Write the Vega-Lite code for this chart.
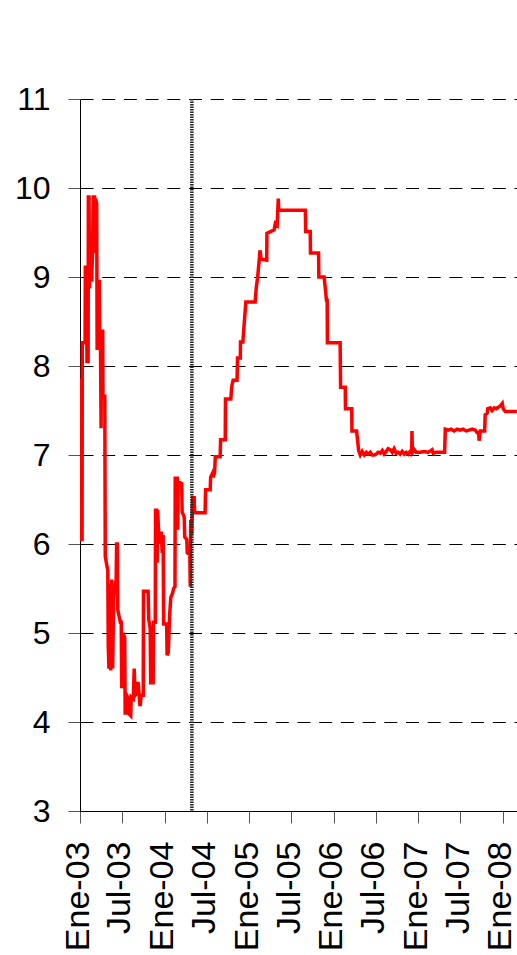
{
  "$schema": "https://vega.github.io/schema/vega-lite/v6.json",
  "width": 437,
  "height": 712,
  "autosize": {"type": "none"},
  "padding": {"left": 80, "top": 99, "right": 0, "bottom": 144},
  "background": "white",
  "config": {
    "view": {"stroke": null},
    "font": "Liberation Sans",
    "axis": {"labelFont": "Liberation Sans", "labelColor": "#000", "domainColor": "#000", "tickColor": "#000", "title": null}
  },
  "datasets": {
    "serie": [
      {"fecha": "2003-01-01", "tasa": 7.70},
      {"fecha": "2003-01-03", "tasa": 7.84},
      {"fecha": "2003-01-07", "tasa": 7.84},
      {"fecha": "2003-01-08", "tasa": 6.05},
      {"fecha": "2003-01-10", "tasa": 6.05},
      {"fecha": "2003-01-11", "tasa": 8.26},
      {"fecha": "2003-01-23", "tasa": 8.26},
      {"fecha": "2003-01-24", "tasa": 9.11},
      {"fecha": "2003-01-30", "tasa": 9.11},
      {"fecha": "2003-01-31", "tasa": 8.05},
      {"fecha": "2003-02-05", "tasa": 8.05},
      {"fecha": "2003-02-06", "tasa": 9.90},
      {"fecha": "2003-02-09", "tasa": 9.90},
      {"fecha": "2003-02-11", "tasa": 8.87},
      {"fecha": "2003-02-12", "tasa": 9.43},
      {"fecha": "2003-02-18", "tasa": 9.43},
      {"fecha": "2003-02-20", "tasa": 8.95},
      {"fecha": "2003-02-24", "tasa": 9.25},
      {"fecha": "2003-02-27", "tasa": 9.90},
      {"fecha": "2003-03-05", "tasa": 9.90},
      {"fecha": "2003-03-07", "tasa": 9.27},
      {"fecha": "2003-03-09", "tasa": 9.88},
      {"fecha": "2003-03-14", "tasa": 9.83},
      {"fecha": "2003-03-16", "tasa": 8.18},
      {"fecha": "2003-03-18", "tasa": 8.95},
      {"fecha": "2003-03-25", "tasa": 8.95},
      {"fecha": "2003-03-27", "tasa": 8.32},
      {"fecha": "2003-03-30", "tasa": 8.39},
      {"fecha": "2003-04-02", "tasa": 7.30},
      {"fecha": "2003-04-04", "tasa": 8.39},
      {"fecha": "2003-04-09", "tasa": 8.39},
      {"fecha": "2003-04-10", "tasa": 7.66},
      {"fecha": "2003-04-18", "tasa": 7.66},
      {"fecha": "2003-04-20", "tasa": 5.86},
      {"fecha": "2003-04-24", "tasa": 5.80},
      {"fecha": "2003-05-01", "tasa": 5.70},
      {"fecha": "2003-05-03", "tasa": 4.85},
      {"fecha": "2003-05-06", "tasa": 4.60},
      {"fecha": "2003-05-09", "tasa": 5.55},
      {"fecha": "2003-05-14", "tasa": 4.58},
      {"fecha": "2003-05-18", "tasa": 5.60},
      {"fecha": "2003-05-22", "tasa": 4.60},
      {"fecha": "2003-05-26", "tasa": 5.40},
      {"fecha": "2003-05-31", "tasa": 5.50},
      {"fecha": "2003-06-06", "tasa": 5.60},
      {"fecha": "2003-06-08", "tasa": 6.00},
      {"fecha": "2003-06-11", "tasa": 6.00},
      {"fecha": "2003-06-13", "tasa": 5.26},
      {"fecha": "2003-06-24", "tasa": 5.12},
      {"fecha": "2003-06-28", "tasa": 5.12},
      {"fecha": "2003-06-30", "tasa": 4.40},
      {"fecha": "2003-07-04", "tasa": 4.40},
      {"fecha": "2003-07-06", "tasa": 5.00},
      {"fecha": "2003-07-13", "tasa": 4.95},
      {"fecha": "2003-07-15", "tasa": 4.10},
      {"fecha": "2003-07-19", "tasa": 4.10},
      {"fecha": "2003-07-22", "tasa": 4.30},
      {"fecha": "2003-07-26", "tasa": 4.28},
      {"fecha": "2003-07-28", "tasa": 4.10},
      {"fecha": "2003-08-08", "tasa": 4.07},
      {"fecha": "2003-08-10", "tasa": 4.28},
      {"fecha": "2003-08-19", "tasa": 4.26},
      {"fecha": "2003-08-23", "tasa": 4.60},
      {"fecha": "2003-08-27", "tasa": 4.30},
      {"fecha": "2003-09-05", "tasa": 4.33},
      {"fecha": "2003-09-09", "tasa": 4.45},
      {"fecha": "2003-09-16", "tasa": 4.20},
      {"fecha": "2003-09-18", "tasa": 4.18},
      {"fecha": "2003-09-22", "tasa": 4.30},
      {"fecha": "2003-10-01", "tasa": 4.30},
      {"fecha": "2003-10-02", "tasa": 5.47},
      {"fecha": "2003-10-22", "tasa": 5.47},
      {"fecha": "2003-10-25", "tasa": 5.15},
      {"fecha": "2003-10-31", "tasa": 5.05},
      {"fecha": "2003-11-02", "tasa": 4.44},
      {"fecha": "2003-11-13", "tasa": 4.44},
      {"fecha": "2003-11-14", "tasa": 5.12},
      {"fecha": "2003-11-22", "tasa": 5.12},
      {"fecha": "2003-11-23", "tasa": 6.38},
      {"fecha": "2003-11-28", "tasa": 6.38},
      {"fecha": "2003-11-30", "tasa": 5.79},
      {"fecha": "2003-12-02", "tasa": 6.38},
      {"fecha": "2003-12-09", "tasa": 6.00},
      {"fecha": "2003-12-11", "tasa": 6.12},
      {"fecha": "2003-12-18", "tasa": 6.12},
      {"fecha": "2003-12-22", "tasa": 5.90},
      {"fecha": "2003-12-26", "tasa": 6.10},
      {"fecha": "2003-12-28", "tasa": 5.10},
      {"fecha": "2004-01-10", "tasa": 5.10},
      {"fecha": "2004-01-12", "tasa": 4.75},
      {"fecha": "2004-01-17", "tasa": 4.78},
      {"fecha": "2004-01-23", "tasa": 5.20},
      {"fecha": "2004-01-28", "tasa": 5.40},
      {"fecha": "2004-02-05", "tasa": 5.45},
      {"fecha": "2004-02-09", "tasa": 5.50},
      {"fecha": "2004-02-15", "tasa": 5.52},
      {"fecha": "2004-02-16", "tasa": 6.74},
      {"fecha": "2004-02-25", "tasa": 6.74},
      {"fecha": "2004-02-27", "tasa": 6.16},
      {"fecha": "2004-02-29", "tasa": 6.70},
      {"fecha": "2004-03-15", "tasa": 6.68},
      {"fecha": "2004-03-17", "tasa": 6.36},
      {"fecha": "2004-03-26", "tasa": 6.30},
      {"fecha": "2004-03-28", "tasa": 6.08},
      {"fecha": "2004-04-06", "tasa": 6.05},
      {"fecha": "2004-04-08", "tasa": 5.90},
      {"fecha": "2004-04-19", "tasa": 5.88},
      {"fecha": "2004-04-21", "tasa": 5.52},
      {"fecha": "2004-04-23", "tasa": 6.27},
      {"fecha": "2004-04-27", "tasa": 6.10},
      {"fecha": "2004-05-01", "tasa": 6.52},
      {"fecha": "2004-05-08", "tasa": 6.52},
      {"fecha": "2004-05-10", "tasa": 6.35},
      {"fecha": "2004-06-24", "tasa": 6.35},
      {"fecha": "2004-06-26", "tasa": 6.61},
      {"fecha": "2004-07-16", "tasa": 6.61},
      {"fecha": "2004-07-18", "tasa": 6.75},
      {"fecha": "2004-07-27", "tasa": 6.80},
      {"fecha": "2004-07-29", "tasa": 6.75},
      {"fecha": "2004-08-04", "tasa": 6.80},
      {"fecha": "2004-08-07", "tasa": 6.98},
      {"fecha": "2004-08-28", "tasa": 6.98},
      {"fecha": "2004-08-30", "tasa": 7.17},
      {"fecha": "2004-09-19", "tasa": 7.17},
      {"fecha": "2004-09-20", "tasa": 7.63},
      {"fecha": "2004-10-13", "tasa": 7.63},
      {"fecha": "2004-10-17", "tasa": 7.77},
      {"fecha": "2004-10-23", "tasa": 7.84},
      {"fecha": "2004-11-09", "tasa": 7.84},
      {"fecha": "2004-11-11", "tasa": 8.09},
      {"fecha": "2004-11-23", "tasa": 8.09},
      {"fecha": "2004-11-24", "tasa": 8.27},
      {"fecha": "2004-12-04", "tasa": 8.27},
      {"fecha": "2004-12-12", "tasa": 8.55},
      {"fecha": "2004-12-17", "tasa": 8.72},
      {"fecha": "2005-01-26", "tasa": 8.72},
      {"fecha": "2005-01-31", "tasa": 8.88},
      {"fecha": "2005-02-06", "tasa": 9.00},
      {"fecha": "2005-02-13", "tasa": 9.20},
      {"fecha": "2005-02-16", "tasa": 9.30},
      {"fecha": "2005-02-21", "tasa": 9.20},
      {"fecha": "2005-03-17", "tasa": 9.19},
      {"fecha": "2005-03-18", "tasa": 9.49},
      {"fecha": "2005-04-18", "tasa": 9.53},
      {"fecha": "2005-04-23", "tasa": 9.60},
      {"fecha": "2005-05-01", "tasa": 9.58},
      {"fecha": "2005-05-06", "tasa": 9.88},
      {"fecha": "2005-05-08", "tasa": 9.75},
      {"fecha": "2005-08-31", "tasa": 9.75},
      {"fecha": "2005-09-01", "tasa": 9.51},
      {"fecha": "2005-09-21", "tasa": 9.51},
      {"fecha": "2005-09-22", "tasa": 9.27},
      {"fecha": "2005-10-27", "tasa": 9.27},
      {"fecha": "2005-10-28", "tasa": 9.00},
      {"fecha": "2005-11-20", "tasa": 9.00},
      {"fecha": "2005-11-30", "tasa": 8.74},
      {"fecha": "2005-12-03", "tasa": 8.74},
      {"fecha": "2005-12-04", "tasa": 8.26},
      {"fecha": "2006-01-28", "tasa": 8.26},
      {"fecha": "2006-01-30", "tasa": 7.76},
      {"fecha": "2006-02-19", "tasa": 7.76},
      {"fecha": "2006-02-20", "tasa": 7.52},
      {"fecha": "2006-03-19", "tasa": 7.52},
      {"fecha": "2006-03-20", "tasa": 7.27},
      {"fecha": "2006-04-09", "tasa": 7.27},
      {"fecha": "2006-04-18", "tasa": 7.05},
      {"fecha": "2006-04-25", "tasa": 7.00},
      {"fecha": "2006-05-03", "tasa": 7.04},
      {"fecha": "2006-05-12", "tasa": 7.00},
      {"fecha": "2006-05-21", "tasa": 7.03},
      {"fecha": "2006-05-29", "tasa": 7.01},
      {"fecha": "2006-06-07", "tasa": 7.03},
      {"fecha": "2006-06-15", "tasa": 7.00},
      {"fecha": "2006-06-24", "tasa": 7.00},
      {"fecha": "2006-07-03", "tasa": 7.01},
      {"fecha": "2006-07-11", "tasa": 7.03},
      {"fecha": "2006-07-20", "tasa": 7.02},
      {"fecha": "2006-07-29", "tasa": 7.05},
      {"fecha": "2006-08-06", "tasa": 7.01},
      {"fecha": "2006-08-15", "tasa": 7.04},
      {"fecha": "2006-08-23", "tasa": 7.07},
      {"fecha": "2006-09-01", "tasa": 7.06},
      {"fecha": "2006-09-10", "tasa": 7.03},
      {"fecha": "2006-09-18", "tasa": 7.07},
      {"fecha": "2006-09-27", "tasa": 7.02},
      {"fecha": "2006-10-06", "tasa": 7.03},
      {"fecha": "2006-10-14", "tasa": 7.01},
      {"fecha": "2006-10-23", "tasa": 7.04},
      {"fecha": "2006-11-01", "tasa": 7.01},
      {"fecha": "2006-11-09", "tasa": 7.03},
      {"fecha": "2006-11-18", "tasa": 7.01},
      {"fecha": "2006-11-26", "tasa": 7.04},
      {"fecha": "2006-12-03", "tasa": 7.03},
      {"fecha": "2006-12-04", "tasa": 7.27},
      {"fecha": "2006-12-06", "tasa": 7.03},
      {"fecha": "2006-12-14", "tasa": 7.06},
      {"fecha": "2006-12-22", "tasa": 7.03},
      {"fecha": "2007-01-09", "tasa": 7.03},
      {"fecha": "2007-01-26", "tasa": 7.04},
      {"fecha": "2007-02-12", "tasa": 7.03},
      {"fecha": "2007-03-01", "tasa": 7.06},
      {"fecha": "2007-03-06", "tasa": 7.02},
      {"fecha": "2007-03-19", "tasa": 7.03},
      {"fecha": "2007-04-24", "tasa": 7.03},
      {"fecha": "2007-04-27", "tasa": 7.29},
      {"fecha": "2007-05-10", "tasa": 7.28},
      {"fecha": "2007-05-22", "tasa": 7.29},
      {"fecha": "2007-06-04", "tasa": 7.27},
      {"fecha": "2007-06-17", "tasa": 7.29},
      {"fecha": "2007-06-30", "tasa": 7.28},
      {"fecha": "2007-07-13", "tasa": 7.29},
      {"fecha": "2007-07-26", "tasa": 7.27},
      {"fecha": "2007-08-08", "tasa": 7.28},
      {"fecha": "2007-08-21", "tasa": 7.29},
      {"fecha": "2007-09-03", "tasa": 7.28},
      {"fecha": "2007-09-12", "tasa": 7.25},
      {"fecha": "2007-09-18", "tasa": 7.25},
      {"fecha": "2007-09-20", "tasa": 7.16},
      {"fecha": "2007-09-25", "tasa": 7.27},
      {"fecha": "2007-10-14", "tasa": 7.27},
      {"fecha": "2007-10-16", "tasa": 7.45},
      {"fecha": "2007-10-25", "tasa": 7.47},
      {"fecha": "2007-10-27", "tasa": 7.52},
      {"fecha": "2007-11-07", "tasa": 7.53},
      {"fecha": "2007-11-15", "tasa": 7.50},
      {"fecha": "2007-11-24", "tasa": 7.53},
      {"fecha": "2007-12-03", "tasa": 7.52},
      {"fecha": "2007-12-20", "tasa": 7.55},
      {"fecha": "2007-12-29", "tasa": 7.58},
      {"fecha": "2008-01-02", "tasa": 7.52},
      {"fecha": "2008-01-11", "tasa": 7.49},
      {"fecha": "2008-03-01", "tasa": 7.49}
    ],
    "corte": [{"fecha": "2004-04-28"}]
  },
  "layer": [
    {
      "data": {"name": "serie"},
      "mark": {"type": "line", "color": "#ff0000", "strokeWidth": 3.5, "strokeJoin": "miter", "clip": true},
      "encoding": {
        "x": {
          "field": "fecha", "type": "temporal",
          "scale": {"type": "utc", "domain": [{"year": 2003, "month": 1, "date": 1, "utc": true}, {"year": 2008, "month": 3, "date": 1, "hours": 12, "utc": true}], "nice": false},
          "axis": {
            "values": [
              {"year": 2003, "month": 1, "date": 1, "utc": true},
              {"year": 2003, "month": 7, "date": 1, "utc": true},
              {"year": 2004, "month": 1, "date": 1, "utc": true},
              {"year": 2004, "month": 7, "date": 1, "utc": true},
              {"year": 2005, "month": 1, "date": 1, "utc": true},
              {"year": 2005, "month": 7, "date": 1, "utc": true},
              {"year": 2006, "month": 1, "date": 1, "utc": true},
              {"year": 2006, "month": 7, "date": 1, "utc": true},
              {"year": 2007, "month": 1, "date": 1, "utc": true},
              {"year": 2007, "month": 7, "date": 1, "utc": true},
              {"year": 2008, "month": 1, "date": 1, "utc": true}
            ],
            "labelExpr": "(utcmonth(datum.value)==0?'Ene':'Jul')+'-'+utcFormat(datum.value,'%y')",
            "labelAngle": 270,
            "labelFontSize": 34,
            "labelPadding": 18,
            "labelOffset": -2,
            "labelOverlap": false,
            "labelBound": false,
            "labelFlush": false,
            "tickSize": 12,
            "tickColor": "#555",
            "grid": false,
            "domainColor": "#000",
            "domainWidth": 1,
            "title": null
          }
        },
        "y": {
          "field": "tasa", "type": "quantitative",
          "scale": {"domain": [3, 11], "nice": false, "zero": false},
          "axis": {
            "values": [3, 4, 5, 6, 7, 8, 9, 10, 11],
            "labelFontSize": 32,
            "labelPadding": 18,
            "tickSize": 12,
            "tickColor": "#555",
            "grid": true,
            "gridColor": "#000",
            "gridDash": [13, 8.7],
            "gridWidth": 1,
            "domainColor": "#000",
            "title": null
          }
        }
      }
    },
    {
      "data": {"name": "corte"},
      "mark": {"type": "rule", "color": "#222", "strokeWidth": 3.5, "strokeDash": [1.5, 1]},
      "encoding": {
        "x": {"field": "fecha", "type": "temporal"}
      }
    }
  ]
}
